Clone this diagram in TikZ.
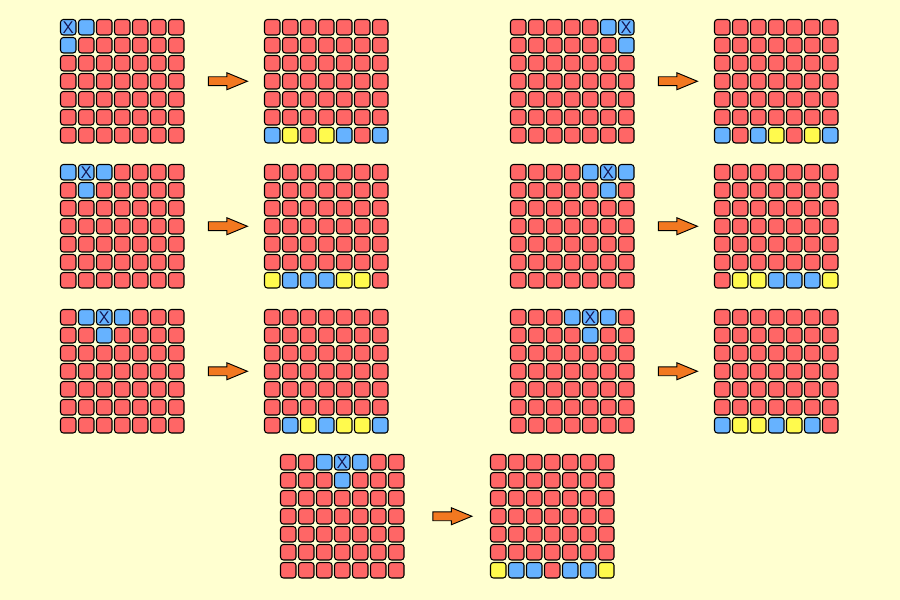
\documentclass[tikz,border=0pt]{standalone}
\usepackage{tikz}
\usetikzlibrary{shapes.arrows}

\definecolor{bgyellow}{RGB}{255,255,208}
\definecolor{cellred}{RGB}{255,102,102}
\definecolor{cellblue}{RGB}{102,178,255}
\definecolor{cellyellow}{RGB}{255,250,77}
\definecolor{marknavy}{RGB}{20,20,80}
\definecolor{arrorange}{RGB}{242,120,32}

% one 7x7 board: name, left, top, row 0, row 1, row 6
\newcommand{\board}[6]{%
  \foreach \s [count=\c from 0] in {#4}
    \node[cell, \s] (#1-\c-0) at (#2+\c*18+8.25, #3+8.25) {};
  \foreach \s [count=\c from 0] in {#5}
    \node[cell, \s] (#1-\c-1) at (#2+\c*18+8.25, #3+18+8.25) {};
  \foreach \r in {2,...,5}
    \foreach \c in {0,...,6}
      \node[cell, rc] (#1-\c-\r) at (#2+\c*18+8.25, #3+\r*18+8.25) {};
  \foreach \s [count=\c from 0] in {#6}
    \node[cell, \s] (#1-\c-6) at (#2+\c*18+8.25, #3+108+8.25) {};
}

\begin{document}
\begin{tikzpicture}[
    x=0.03cm, y=-0.03cm,
    cell/.style={rectangle, draw, line width=0.9pt, rounded corners=2.5pt,
                 minimum size=0.465cm, inner sep=0pt},
    rc/.style={fill=cellred},
    bc/.style={fill=cellblue},
    yc/.style={fill=cellyellow},
    xc/.style={fill=cellblue, font=\sffamily\Large, text=marknavy,
               execute at begin node={X}},
    bigarrow/.style={single arrow, draw, line width=0.8pt, fill=arrorange,
                     minimum height=1.17cm, minimum width=0pt,
                     inner xsep=0pt, inner ysep=0.12cm,
                     single arrow head extend=0.12cm, single arrow tip angle=45}
]
\fill[bgyellow] (0,0) rectangle (900,600);
\useasboundingbox (0,0) rectangle (900,600);

% row 1
\board{ain}{60}{19}{xc,bc,rc,rc,rc,rc,rc}{bc,rc,rc,rc,rc,rc,rc}{rc,rc,rc,rc,rc,rc,rc}
\board{aout}{264}{19}{rc,rc,rc,rc,rc,rc,rc}{rc,rc,rc,rc,rc,rc,rc}{bc,yc,rc,yc,bc,rc,bc}
\node[bigarrow] (a-arr) at (222.5, 81.25) {};

\board{bin}{510}{19}{rc,rc,rc,rc,rc,bc,xc}{rc,rc,rc,rc,rc,rc,bc}{rc,rc,rc,rc,rc,rc,rc}
\board{bout}{714}{19}{rc,rc,rc,rc,rc,rc,rc}{rc,rc,rc,rc,rc,rc,rc}{bc,rc,bc,yc,rc,yc,bc}
\node[bigarrow] (b-arr) at (672.5, 81.25) {};

% row 2
\board{cin}{60}{164}{bc,xc,bc,rc,rc,rc,rc}{rc,bc,rc,rc,rc,rc,rc}{rc,rc,rc,rc,rc,rc,rc}
\board{cout}{264}{164}{rc,rc,rc,rc,rc,rc,rc}{rc,rc,rc,rc,rc,rc,rc}{yc,bc,bc,bc,yc,yc,rc}
\node[bigarrow] (c-arr) at (222.5, 226.25) {};

\board{din}{510}{164}{rc,rc,rc,rc,bc,xc,bc}{rc,rc,rc,rc,rc,bc,rc}{rc,rc,rc,rc,rc,rc,rc}
\board{dout}{714}{164}{rc,rc,rc,rc,rc,rc,rc}{rc,rc,rc,rc,rc,rc,rc}{rc,yc,yc,bc,bc,bc,yc}
\node[bigarrow] (d-arr) at (672.5, 226.25) {};

% row 3
\board{ein}{60}{309}{rc,bc,xc,bc,rc,rc,rc}{rc,rc,bc,rc,rc,rc,rc}{rc,rc,rc,rc,rc,rc,rc}
\board{eout}{264}{309}{rc,rc,rc,rc,rc,rc,rc}{rc,rc,rc,rc,rc,rc,rc}{rc,bc,yc,bc,yc,yc,bc}
\node[bigarrow] (e-arr) at (222.5, 371.25) {};

\board{fin}{510}{309}{rc,rc,rc,bc,xc,bc,rc}{rc,rc,rc,rc,bc,rc,rc}{rc,rc,rc,rc,rc,rc,rc}
\board{fout}{714}{309}{rc,rc,rc,rc,rc,rc,rc}{rc,rc,rc,rc,rc,rc,rc}{bc,yc,yc,bc,yc,bc,rc}
\node[bigarrow] (f-arr) at (672.5, 371.25) {};

% row 4
\board{gin}{280}{454}{rc,rc,bc,xc,bc,rc,rc}{rc,rc,rc,bc,rc,rc,rc}{rc,rc,rc,rc,rc,rc,rc}
\board{gout}{490}{454}{rc,rc,rc,rc,rc,rc,rc}{rc,rc,rc,rc,rc,rc,rc}{yc,bc,bc,rc,bc,bc,yc}
\node[bigarrow] (g-arr) at (447, 516.25) {};
\end{tikzpicture}
\end{document}
